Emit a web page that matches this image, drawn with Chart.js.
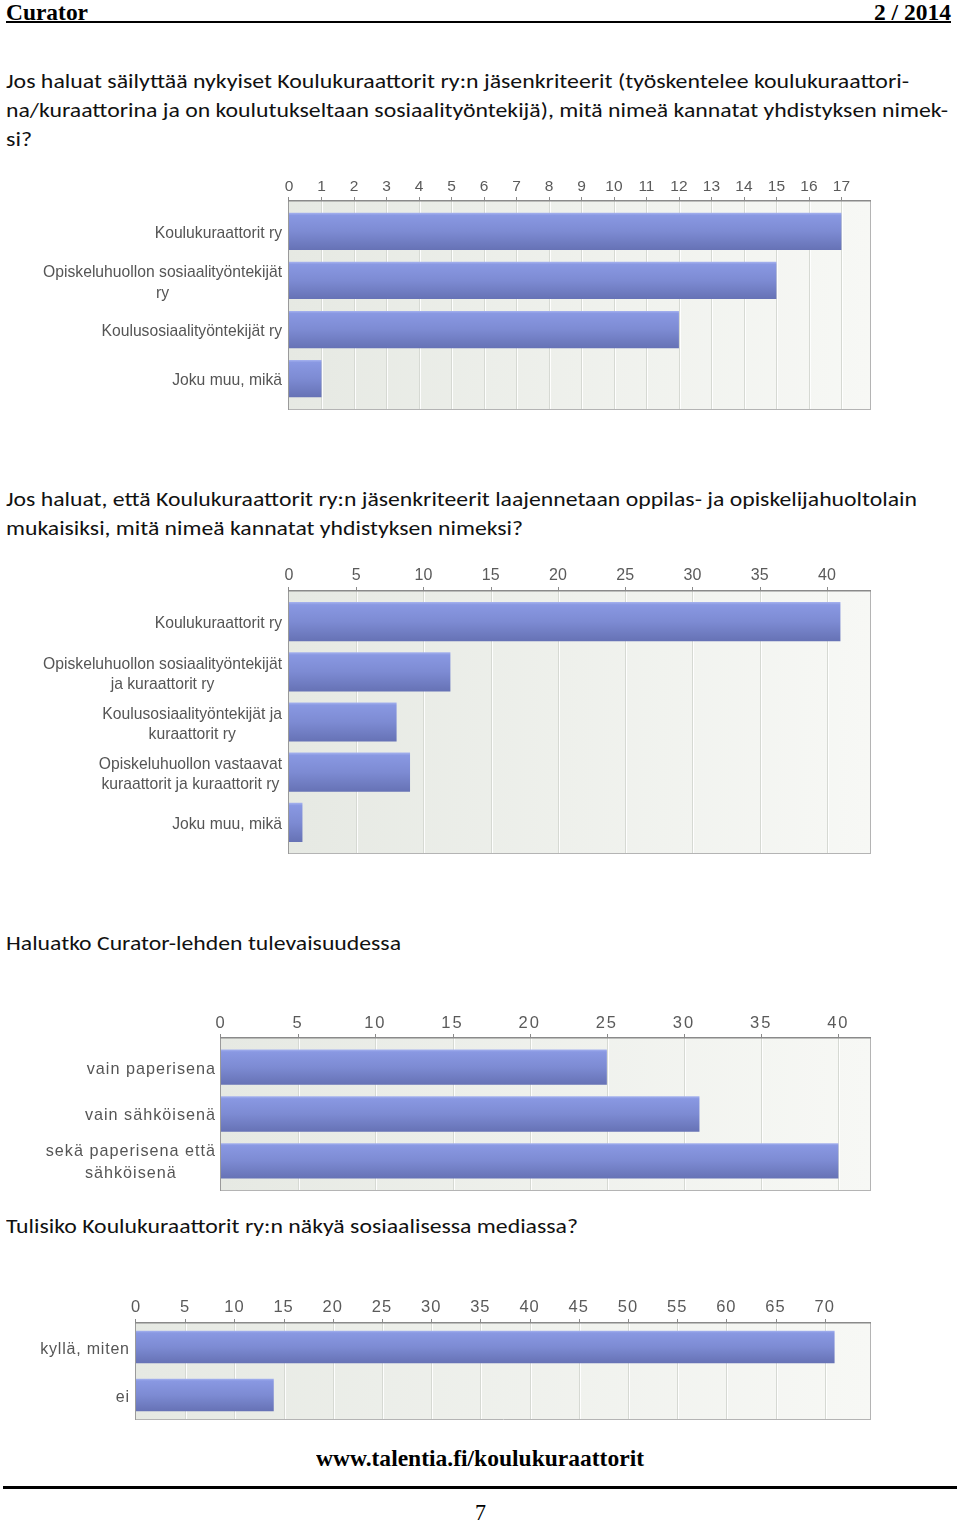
<!DOCTYPE html>
<html><head><meta charset="utf-8">
<script src="https://cdn.jsdelivr.net/npm/chart.js@4.4.1/dist/chart.umd.min.js"></script>
<style>
html,body{margin:0;padding:0;background:#fff;}
#page{position:relative;width:960px;height:1523px;overflow:hidden;background:#fff;}
.t{position:absolute;white-space:nowrap;transform-origin:0 50%;}
.q{font-family:Carlito,Lato,'Open Sans',sans-serif;font-size:20px;line-height:29px;color:#111;}
.hd{font-family:'Liberation Serif','Times New Roman',serif;font-weight:bold;font-size:24px;line-height:24px;color:#000;}
.ft{font-family:'Liberation Serif','Times New Roman',serif;font-size:24px;line-height:24px;color:#000;}
canvas{position:absolute;left:0;}
</style></head>
<body><div id="page">
<div class="t hd" style="left:6px;top:0px" data-w="82">Curator</div>
<div class="t hd" style="left:874px;top:0px" data-w="77">2 / 2014</div>
<div style="position:absolute;left:6px;top:21px;width:945px;height:2px;background:#000"></div>

<div class="t q" style="left:6px;top:67px" data-w="903">Jos haluat säilyttää nykyiset Koulukuraattorit ry:n jäsenkriteerit (työskentelee koulukuraattori-</div>
<div class="t q" style="left:6px;top:96px" data-w="942">na/kuraattorina ja on koulutukseltaan sosiaalityöntekijä), mitä nimeä kannatat yhdistyksen nimek-</div>
<div class="t q" style="left:6px;top:125px" data-w="26">si?</div>

<div class="t q" style="left:6px;top:485px" data-w="911">Jos haluat, että Koulukuraattorit ry:n jäsenkriteerit laajennetaan oppilas- ja opiskelijahuoltolain</div>
<div class="t q" style="left:6px;top:514px" data-w="517">mukaisiksi, mitä nimeä kannatat yhdistyksen nimeksi?</div>

<div class="t q" style="left:6px;top:929px" data-w="395">Haluatko Curator-lehden tulevaisuudessa</div>
<div class="t q" style="left:6px;top:1212px" data-w="572">Tulisiko Koulukuraattorit ry:n näkyä sosiaalisessa mediassa?</div>

<canvas id="c1"></canvas>
<canvas id="c2"></canvas>
<canvas id="c3"></canvas>
<canvas id="c4"></canvas>

<div class="t hd" style="left:316px;top:1447px;font-size:23px" data-w="328">www.talentia.fi/koulukuraattorit</div>
<div style="position:absolute;left:3px;top:1486px;width:954px;height:3px;background:#000"></div>
<div class="t ft" style="left:475px;top:1500px" data-w="11">7</div>
</div>
<script>
// ---- data ----
const q1Categories = ["Koulukuraattorit ry", ["Opiskeluhuollon sosiaalityöntekijät", "ry"], "Koulusosiaalityöntekijät ry", "Joku muu, mikä"];
const q1Values = [17, 15, 12, 1];
const q1AxisMax = 17.88;
const q1TickStep = 1;

const q2Categories = ["Koulukuraattorit ry", ["Opiskeluhuollon sosiaalityöntekijät", "ja kuraattorit ry"], ["Koulusosiaalityöntekijät ja", "kuraattorit ry"], ["Opiskeluhuollon vastaavat", "kuraattorit ja kuraattorit ry"], "Joku muu, mikä"];
const q2Values = [41, 12, 8, 9, 1];
const q2AxisMax = 43.2;
const q2TickStep = 5;

const q3Categories = ["vain paperisena", "vain sähköisenä", ["sekä paperisena että", "sähköisenä"]];
const q3Values = [25, 31, 40];
const q3AxisMax = 42.05;
const q3TickStep = 5;

const q4Categories = ["kyllä, miten", "ei"];
const q4Values = [71, 14];
const q4AxisMax = 74.6;
const q4TickStep = 5;

// ---- text fitting ----
function fitTexts() {
  document.querySelectorAll('[data-w]').forEach(el => {
    el.style.transform = 'none';
    const w = el.getBoundingClientRect().width;
    if (w > 0) el.style.transform = 'scaleX(' + (parseFloat(el.dataset.w) / w) + ')';
  });
}
fitTexts();
if (document.fonts && document.fonts.ready) document.fonts.ready.then(fitTexts);

// ---- charts ----
const FONT = '"Liberation Sans", Arial, sans-serif';
function makeChart(s) {
  const cv = document.getElementById(s.id);
  cv.style.top = s.canvasTop + 'px';
  cv.width = 960; cv.height = s.canvasH;
  const H = s.frameTop + s.ext - s.canvasTop;
  const lineH = s.tickSize * 1.2;
  const pad = H - lineH / 2 - (s.tickY - s.canvasTop);
  const bottomPad = s.canvasH - (s.frameBottom - s.ext - s.canvasTop);
  const n = s.labels.length;
  const fallback = '#7886cf';
  function grad(c) {
    const ch = c.chart, ys = ch.scales && ch.scales.y;
    if (!ys || c.dataIndex === undefined || !ch.chartArea) return fallback;
    const mid = ys.getPixelForValue(c.dataIndex);
    const half = ys.height / n * s.pct / 2;
    const g = ch.ctx.createLinearGradient(0, mid - half, 0, mid + half);
    g.addColorStop(0, '#a6b3ef');
    g.addColorStop(0.07, '#8998e2');
    g.addColorStop(0.5, '#7d8bd3');
    g.addColorStop(1, '#6672b5');
    return g;
  }
  const plugin = {
    id: 'frame_' + s.id,
    beforeDraw(ch) { ch.ctx.letterSpacing = s.tickSpacing + 'px'; },
    beforeDatasetsDraw(ch) {
      const ctx = ch.ctx, ca = ch.chartArea, xs = ch.scales.x;
      const top = ca.top - s.ext, bot = ca.bottom + s.ext;
      ctx.save();
      const bg = ctx.createLinearGradient(ca.left, 0, ca.right, 0);
      bg.addColorStop(0, '#e6e9e3');
      bg.addColorStop(1, '#f7f8f5');
      ctx.fillStyle = bg;
      ctx.fillRect(ca.left, top, ca.right - ca.left, bot - top);
      ctx.lineWidth = 1;
      xs.ticks.forEach(t => {
        if (t.value === 0) return;
        const x = Math.round(xs.getPixelForValue(t.value)) + 0.5;
        ctx.strokeStyle = '#d6d9d3';
        ctx.beginPath(); ctx.moveTo(x, top); ctx.lineTo(x, bot); ctx.stroke();
        ctx.strokeStyle = 'rgba(255,255,255,0.9)';
        ctx.beginPath(); ctx.moveTo(x + 1, top); ctx.lineTo(x + 1, bot); ctx.stroke();
      });
      ctx.restore();
    },
    afterDatasetsDraw(ch) {
      const ctx = ch.ctx, ca = ch.chartArea, xs = ch.scales.x;
      const top = Math.round(ca.top - s.ext), bot = Math.round(ca.bottom + s.ext);
      const l = Math.round(ca.left), r = Math.round(ca.right);
      ctx.save();
      ctx.lineWidth = 1;
      ctx.strokeStyle = '#b4b4b4';
      ctx.beginPath(); ctx.moveTo(r + 0.5, top); ctx.lineTo(r + 0.5, bot + 1); ctx.stroke();
      ctx.beginPath(); ctx.moveTo(l, bot + 0.5); ctx.lineTo(r + 1, bot + 0.5); ctx.stroke();
      ctx.strokeStyle = '#9a9a9a';
      ctx.beginPath(); ctx.moveTo(l - 0.5, top); ctx.lineTo(l - 0.5, bot + 1); ctx.stroke();
      ctx.strokeStyle = '#8a8a8a';
      ctx.lineWidth = 1.5;
      ctx.beginPath(); ctx.moveTo(l - 1, top - 0.25); ctx.lineTo(r + 1, top - 0.25); ctx.stroke();
      ctx.lineWidth = 1;
      xs.ticks.forEach(t => {
        const x = Math.round(xs.getPixelForValue(t.value)) + (t.value === 0 ? -0.5 : 0.5);
        ctx.beginPath(); ctx.moveTo(x, top - 4); ctx.lineTo(x, top); ctx.stroke();
      });
      ctx.restore();
    },
    afterDraw(ch) {
      const ctx = ch.ctx, ca = ch.chartArea, ys = ch.scales.y;
      ctx.save();
      ctx.font = s.labelSize + 'px ' + FONT;
      ctx.letterSpacing = s.labelSpacing + 'px';
      ctx.fillStyle = '#555555';
      ctx.textAlign = 'center';
      ctx.textBaseline = 'middle';
      ch.data.labels.forEach((lab, i) => {
        const lines = Array.isArray(lab) ? lab : [lab];
        const w = Math.max.apply(null, lines.map(t => ctx.measureText(t).width - s.labelSpacing));
        const cx = ca.left - s.labelGap - w / 2 + s.labelSpacing / 2;
        const cy = ys.getPixelForValue(i) + s.labelDy;
        lines.forEach((t, j) => ctx.fillText(t, cx, cy + (j - (lines.length - 1) / 2) * s.labelLH));
      });
      ctx.restore();
      ctx.letterSpacing = '0px';
    }
  };
  return new Chart(cv, {
    type: 'bar',
    data: {
      labels: s.labels,
      datasets: [{
        data: s.values,
        backgroundColor: grad,
        borderWidth: 0,
        barPercentage: s.pct,
        categoryPercentage: 1
      }]
    },
    options: {
      indexAxis: 'y',
      responsive: false,
      animation: false,
      devicePixelRatio: 1,
      events: [],
      layout: { padding: { left: s.left, right: 960 - s.right, top: 0, bottom: bottomPad } },
      plugins: { legend: { display: false }, tooltip: { enabled: false } },
      scales: {
        x: {
          type: 'linear',
          position: 'top',
          min: 0,
          max: s.max,
          grid: { display: false, drawTicks: false },
          border: { display: false },
          ticks: {
            stepSize: s.step,
            includeBounds: false,
            autoSkip: false,
            maxRotation: 0,
            padding: pad,
            color: '#5a5a5a',
            font: { family: FONT, size: s.tickSize, lineHeight: 1.2 }
          },
          afterFit: sc => { sc.height = H; }
        },
        y: { display: false }
      }
    },
    plugins: [plugin]
  });
}

makeChart({ id: 'c1', labels: q1Categories, values: q1Values, max: q1AxisMax, step: q1TickStep,
  canvasTop: 165, canvasH: 255, left: 289, right: 870, frameTop: 201, frameBottom: 409, ext: 5.9, pct: 0.76,
  tickY: 187, tickSize: 15.5, tickSpacing: 0, labelSize: 15.7, labelSpacing: 0, labelLH: 21, labelGap: 7, labelDy: 2.5 });
makeChart({ id: 'c2', labels: q2Categories, values: q2Values, max: q2AxisMax, step: q2TickStep,
  canvasTop: 555, canvasH: 310, left: 289, right: 870, frameTop: 591, frameBottom: 853, ext: 5.5, pct: 0.78,
  tickY: 576, tickSize: 16, tickSpacing: 0, labelSize: 15.7, labelSpacing: 0, labelLH: 20, labelGap: 7, labelDy: 2.5 });
makeChart({ id: 'c3', labels: q3Categories, values: q3Values, max: q3AxisMax, step: q3TickStep,
  canvasTop: 1000, canvasH: 200, left: 221, right: 870, frameTop: 1038, frameBottom: 1190, ext: 5.7, pct: 0.757,
  tickY: 1023.5, tickSize: 16.5, tickSpacing: 2, labelSize: 16.2, labelSpacing: 1, labelLH: 22, labelGap: 6, labelDy: 2 });
makeChart({ id: 'c4', labels: q4Categories, values: q4Values, max: q4AxisMax, step: q4TickStep,
  canvasTop: 1285, canvasH: 145, left: 136, right: 870, frameTop: 1323, frameBottom: 1419, ext: 0, pct: 0.68,
  tickY: 1307.5, tickSize: 16.5, tickSpacing: 1, labelSize: 16, labelSpacing: 0.8, labelLH: 22, labelGap: 7, labelDy: 2.5 });
</script>
</body></html>
